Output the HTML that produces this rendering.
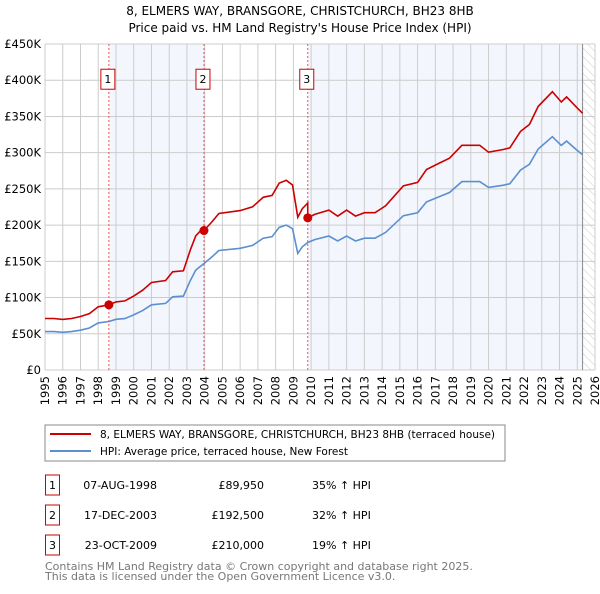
<!DOCTYPE html>
<html><head><meta charset="utf-8"><style>
body{margin:0;background:#fff;font-family:"DejaVu Sans","Liberation Sans",sans-serif;}
svg text{font-family:"DejaVu Sans","Liberation Sans",sans-serif;}
</style></head><body>
<svg id="c" width="600" height="590" viewBox="0 0 600 590" xmlns="http://www.w3.org/2000/svg">
<text x="300" y="15" text-anchor="middle" font-size="12">8, ELMERS WAY, BRANSGORE, CHRISTCHURCH, BH23 8HB</text>
<text x="300" y="32" text-anchor="middle" font-size="12">Price paid vs. HM Land Registry's House Price Index (HPI)</text>
<g id="plot"></g>
<g>
<rect x="45" y="425" width="460" height="36" fill="#fff" stroke="#888" stroke-width="1"/>
<line x1="50" y1="434" x2="91" y2="434" stroke="#cc0000" stroke-width="2"/>
<text x="100" y="438" font-size="10.5">8, ELMERS WAY, BRANSGORE, CHRISTCHURCH, BH23 8HB (terraced house)</text>
<line x1="50" y1="451" x2="91" y2="451" stroke="#5b8fd0" stroke-width="2"/>
<text x="100" y="455" font-size="10.5">HPI: Average price, terraced house, New Forest</text>
</g>
<g id="table"></g>
<text x="45" y="570" font-size="11" fill="#777">Contains HM Land Registry data © Crown copyright and database right 2025.</text>
<text x="45" y="580" font-size="11" fill="#777">This data is licensed under the Open Government Licence v3.0.</text>
</svg>
<script>
const hpiYears=[1995,1995.5,1996,1996.5,1997,1997.5,1998,1998.6,1999,1999.5,2000,2000.5,2001,2001.8,2002.2,2002.8,2003.2,2003.5,2003.96,2004.4,2004.8,2006,2006.7,2007.3,2007.8,2008.2,2008.6,2008.95,2009.25,2009.5,2009.81,2010.2,2011,2011.5,2012,2012.5,2013,2013.6,2014.2,2015.2,2016,2016.5,2017.3,2017.8,2018.5,2019.5,2020,2020.8,2021.2,2021.8,2022.3,2022.8,2023.6,2024.1,2024.4,2025,2025.3];
const hpiValues=[53,53,52,53,55,58,65,67,70,71,76,82,90,92,101,102,124,138,147,156,165,168,172,182,184,197,200,195,161,170,176,180,185,178,185,178,182,182,190,213,217,232,240,245,260,260,252,255,257,276,284,305,322,310,316,303,297];
const saleDates=[1998.6,2003.96,2009.81];
const salePrices=[89950,192500,210000];
const saleLabels=["1","2","3"];
const saleDateText=["07-AUG-1998","17-DEC-2003","23-OCT-2009"];
const salePriceText=["£89,950","£192,500","£210,000"];
const saleHpiText=["35% ↑ HPI","32% ↑ HPI","19% ↑ HPI"];
const yTicks=[0,50,100,150,200,250,300,350,400,450];
const yTickLabels=["£0","£50K","£100K","£150K","£200K","£250K","£300K","£350K","£400K","£450K"];
const xTicks=[];for(let y=1995;y<=2026;y++)xTicks.push(y);

const L=45,R=595,T=44,B=370;
const xs=y=>L+(y-1995)/(2026-1995)*(R-L);
const ys=v=>B-v/450*(B-T);
const NS="http://www.w3.org/2000/svg";
const plot=document.getElementById('plot');
function mk(tag,attrs,parent){const e=document.createElementNS(NS,tag);for(const k in attrs)e.setAttribute(k,attrs[k]);(parent||plot).appendChild(e);return e;}
function hpiAt(t){for(let i=0;i<hpiYears.length-1;i++){if(t>=hpiYears[i]&&t<=hpiYears[i+1]){const f=(t-hpiYears[i])/(hpiYears[i+1]-hpiYears[i]);return hpiValues[i]+f*(hpiValues[i+1]-hpiValues[i]);}}return hpiValues[hpiValues.length-1];}

let e;
e=mk('rect',{x:L,y:T,width:R-L,height:B-T,fill:'#fff'});


e=mk('rect',{x:xs(saleDates[0]),y:T,width:xs(saleDates[1])-xs(saleDates[0]),height:B-T,fill:'#eef3fc',opacity:0.7});


const endX=xs(hpiYears[hpiYears.length-1]);
e=mk('rect',{x:xs(saleDates[2]),y:T,width:endX-xs(saleDates[2]),height:B-T,fill:'#eef3fc',opacity:0.7});


const defs=mk('defs',{});
const pat=mk('pattern',{id:'h',width:6,height:6,patternUnits:'userSpaceOnUse',patternTransform:'rotate(-45)'},defs);
mk('line',{x1:0,y1:0,x2:0,y2:6,stroke:'#ccc','stroke-width':1},pat);
e=mk('rect',{x:endX,y:T,width:R-endX,height:B-T,fill:'url(#h)'});


xTicks.forEach((y,i)=>{
 e=mk('line',{x1:xs(y),y1:T,x2:xs(y),y2:B,stroke:'#ccc','stroke-width':1});
 
 
 e=mk('text',{x:0,y:0,'font-size':11.5,'text-anchor':'end',transform:`translate(${xs(y)+4},${B+6}) rotate(-90)`});
 e.textContent=y;
 
 
});
yTicks.forEach((v,i)=>{
 e=mk('line',{x1:L,y1:ys(v),x2:R,y2:ys(v),stroke:'#ccc','stroke-width':1});
 
 
 e=mk('text',{x:L-4,y:ys(v)+4,'font-size':11.5,'text-anchor':'end'});
 e.textContent=yTickLabels[i];
 
 
});
e=mk('line',{x1:endX,y1:T,x2:endX,y2:B,stroke:'#888','stroke-width':1});


saleDates.forEach((d,i)=>{
 e=mk('line',{x1:xs(d),y1:T,x2:xs(d),y2:B,stroke:'#ee5555','stroke-width':1,'stroke-dasharray':'2,2'});
 
 
 const g=mk('g',{});
 
 
 mk('rect',{x:xs(d)-8,y:ys(400)-11,width:14,height:20,fill:'#fff',stroke:'#cc0000'},g);
 const t=mk('text',{x:xs(d)-1,y:ys(400)+3,'font-size':11,'text-anchor':'middle'},g);t.textContent=saleLabels[i];
});
const hpiPts=hpiYears.map((y,i)=>xs(y).toFixed(1)+','+ys(hpiValues[i]).toFixed(1)).join(' ');
e=mk('polyline',{points:hpiPts,fill:'none',stroke:'#5b8fd0','stroke-width':1.6});


function ratioAt(t){let k=0;for(let i=0;i<saleDates.length;i++)if(t>=saleDates[i])k=i;return salePrices[k]/1000/hpiAt(saleDates[k]);}
const redT=[];hpiYears.forEach(y=>redT.push(y));saleDates.forEach(d=>{redT.push(d-0.001);redT.push(d);});
redT.sort((a,b)=>a-b);
const redPts=redT.map(t=>xs(t).toFixed(1)+','+ys(hpiAt(t)*ratioAt(t)).toFixed(1)).join(' ');
e=mk('polyline',{points:redPts,fill:'none',stroke:'#cc0000','stroke-width':1.6});


saleDates.forEach((d,i)=>{
 e=mk('circle',{cx:xs(d),cy:ys(salePrices[i]/1000),r:4.5,fill:'#cc0000'});
 
 
});
const tb=document.getElementById('table');
saleLabels.forEach((l,i)=>{
 const y0=475+i*30;
 const g=mk('g',{},tb);
 
 
 mk('rect',{x:45.5,y:y0,width:14,height:20,fill:'#fff',stroke:'#cc0000'},g);
 let t=mk('text',{x:52.5,y:y0+14,'font-size':11,'text-anchor':'middle'},g);t.textContent=l;
 t=mk('text',{x:157,y:y0+14,'font-size':11,'text-anchor':'end'},g);t.textContent=saleDateText[i];
 t=mk('text',{x:264,y:y0+14,'font-size':11,'text-anchor':'end'},g);t.textContent=salePriceText[i];
 t=mk('text',{x:312,y:y0+14,'font-size':11},g);t.textContent=saleHpiText[i];
});
</script>
</body></html>
